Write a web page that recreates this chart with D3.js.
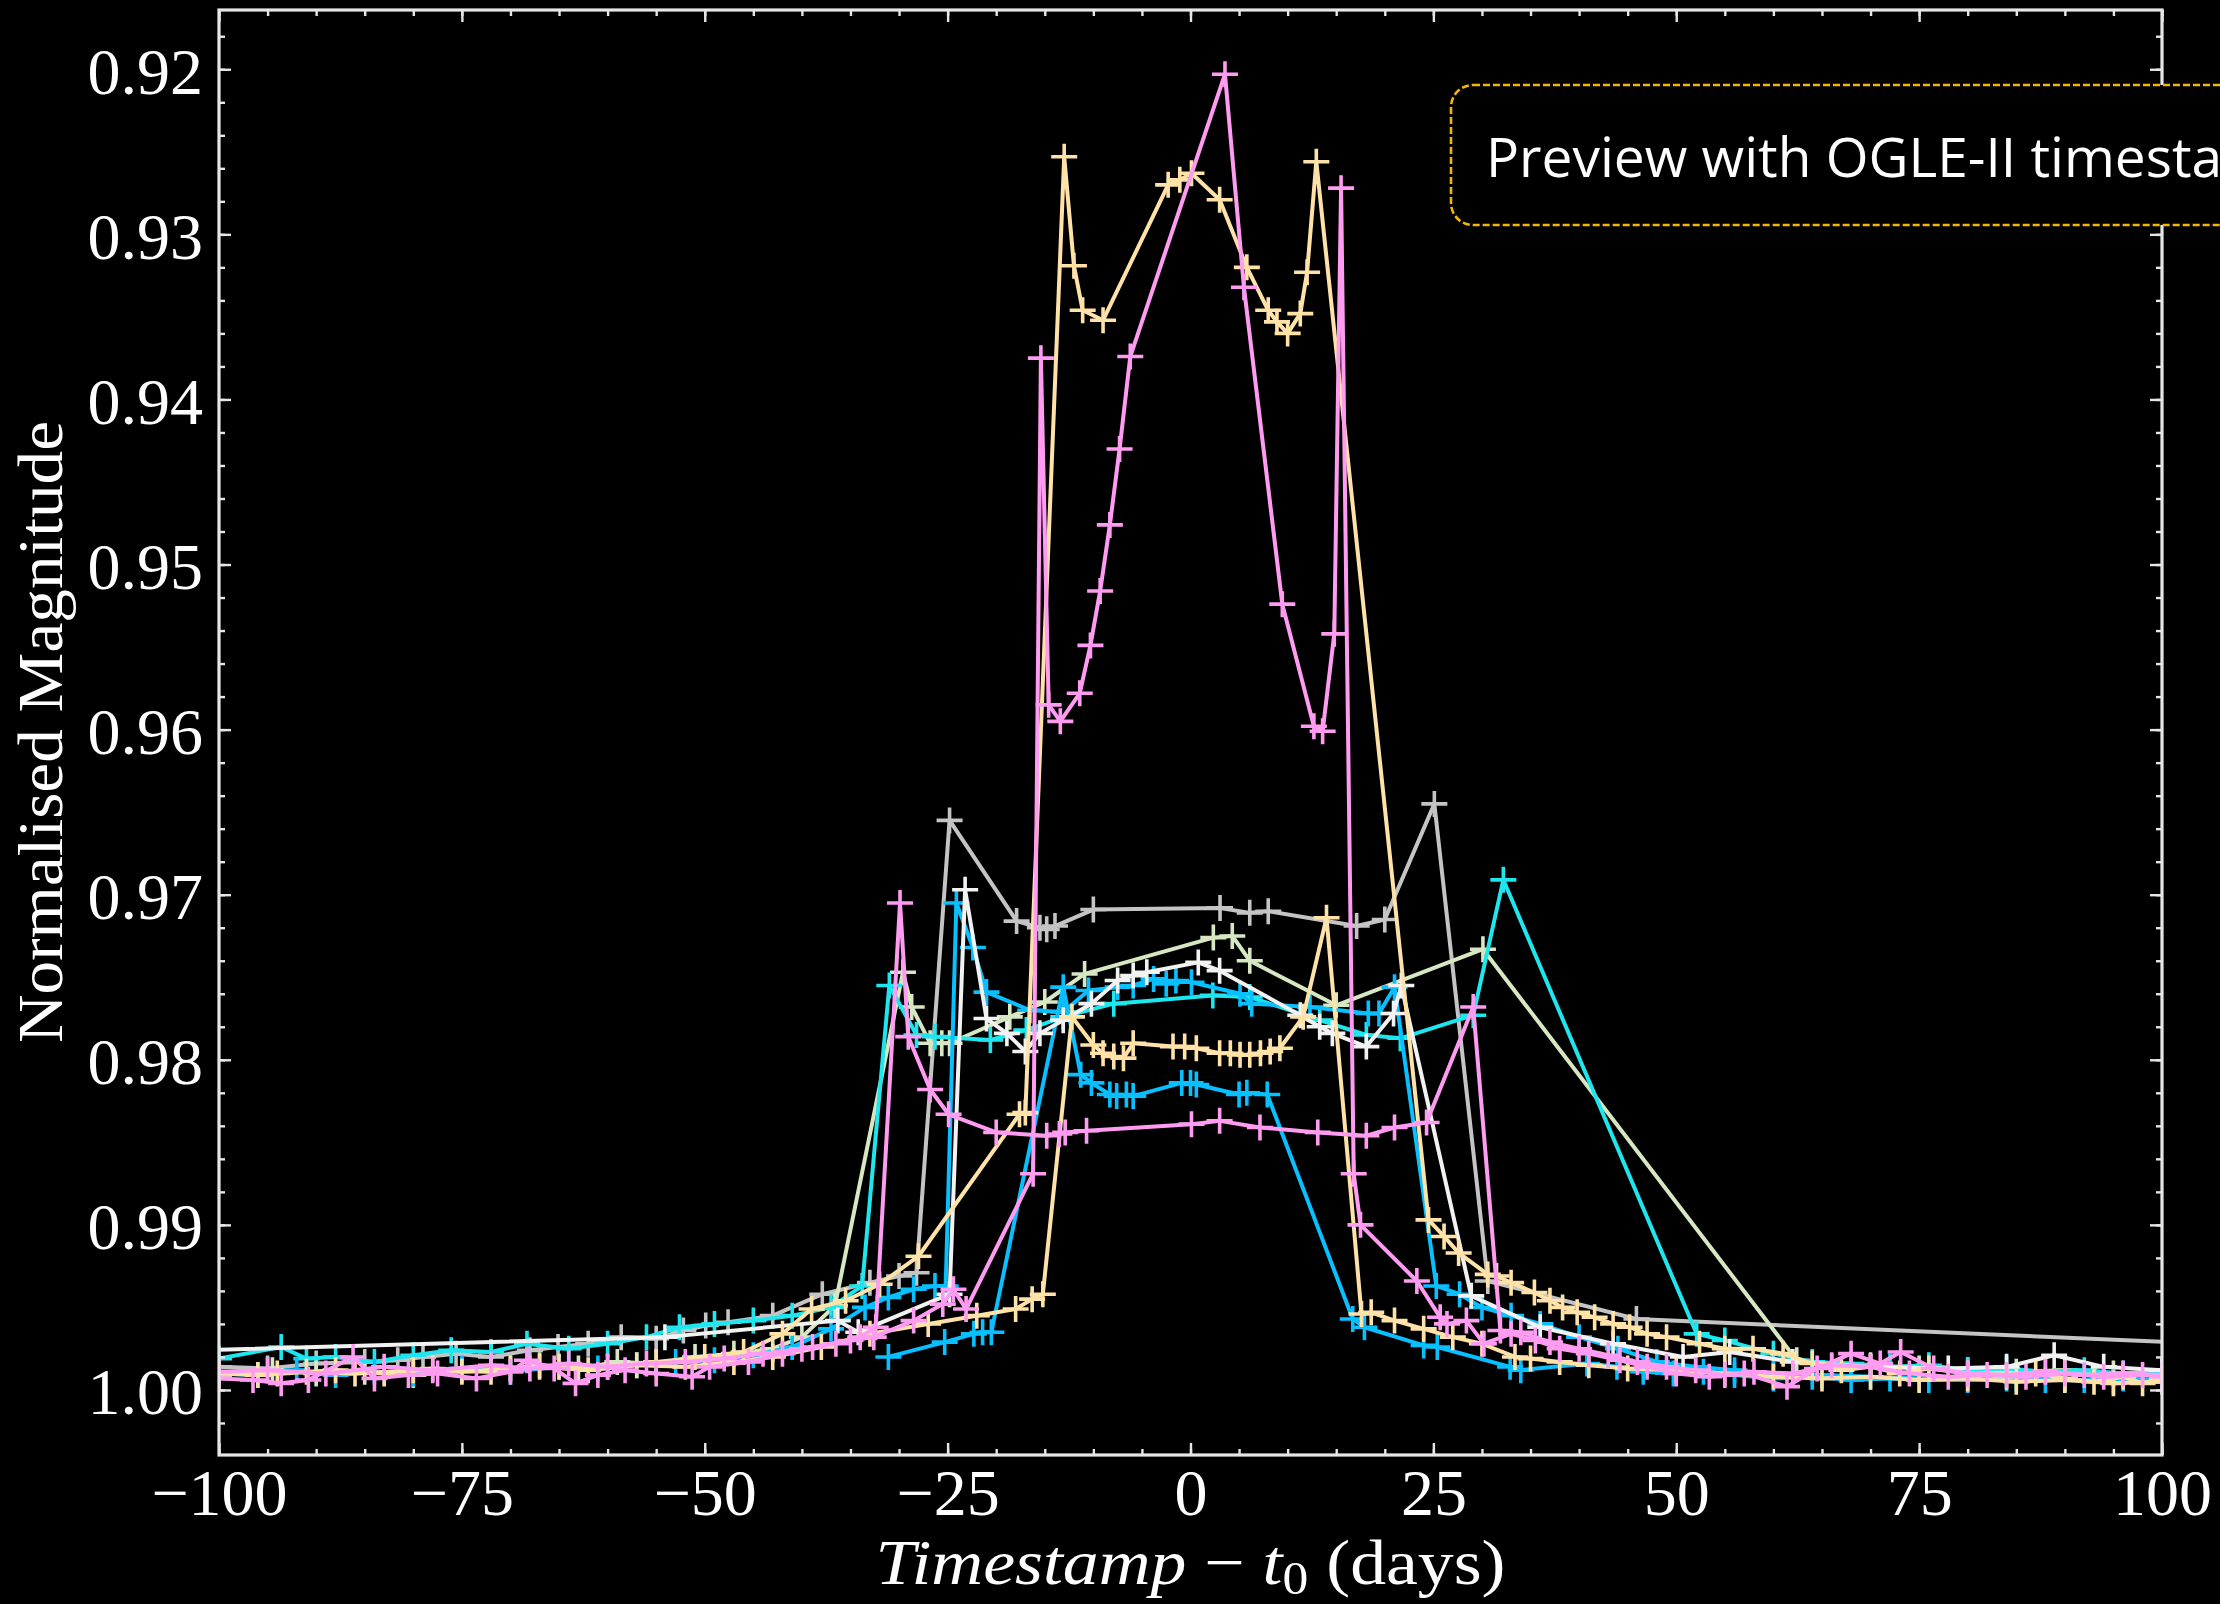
<!DOCTYPE html>
<html><head><meta charset="utf-8">
<script src="https://cdn.jsdelivr.net/npm/d3@7"></script>
<style>html,body{margin:0;padding:0;background:#000;overflow:hidden}</style>
</head><body>
<svg id="chart" width="2220" height="1604"></svg>
<script>
// ---------------- DATA ----------------
const xTickValues = [-100,-75,-50,-25,0,25,50,75,100];
const xTickLabels = ["\u2212100","\u221275","\u221250","\u221225","0","25","50","75","100"];
const yTickValues = [0.92,0.93,0.94,0.95,0.96,0.97,0.98,0.99,1.00];
const yTickLabels = ["0.92","0.93","0.94","0.95","0.96","0.97","0.98","0.99","1.00"];

const pinkA_t = [-100,-96.5,-93.6,-90.8,-86.2,-84,-80.5,-77.5,-73.5,-70,-68.3,-65.5,-63.3,-61,-58.2,-55,-51.3,-49.5,-45.5,-42,-38.9,-35,-32.6,-28.5,-25.5,-24.4,-23.1,-16.2,-15.4,-14.6,-13.4,-11.4,-10.3,-9.3,-8.3,-7.3,-6.2,3.55,5.5,9.45,12.7,13.6,14.8,15.5,16.8,17.5,23.3,25.7,26.4,28.4,30.2,33,35.5,38,41,44.2,47,50,53.4,57,61.4,64.5,68,71,73.1,76.5,80,84,88,92,96,100];
const pinkA_m = [0.9993,0.9994,0.9996,0.9994,0.9980,0.9993,0.9991,0.9990,0.9993,0.9989,0.9982,0.9987,0.9996,0.9991,0.9988,0.9990,0.9992,0.9986,0.9983,0.9978,0.9974,0.9970,0.9968,0.9958,0.9948,0.9939,0.9951,0.9869,0.9375,0.9585,0.9595,0.9578,0.9549,0.9516,0.9476,0.9430,0.9374,0.9203,0.9332,0.9524,0.9598,0.9601,0.9542,0.9272,0.9869,0.9900,0.9934,0.9956,0.9960,0.9958,0.9972,0.9966,0.9970,0.9975,0.9978,0.9982,0.9986,0.9990,0.9992,0.9990,0.9998,0.9987,0.9978,0.9984,0.9977,0.9987,0.9990,0.9991,0.9989,0.9991,0.9990,0.9991];

const pinkB_t = [-100,-95,-89,-83,-78,-72,-68,-64,-60,-56,-52,-48,-44,-40,-36.5,-34,-32.4,-29.9,-29.05,-26.8,-24.9,-20.0,-14.8,-13.5,-12.9,-10.7,0.1,3.0,7.15,13.1,18.1,21.0,24.3,29.1,31.9,34,37,40,43,46,49,52,55,58,62,66,70,74,78,82,86,90,94,98,100];
const pinkB_m = [0.9989,0.9988,0.9990,0.9986,0.9988,0.9985,0.9987,0.9984,0.9986,0.9984,0.9983,0.9981,0.9978,0.9975,0.9972,0.9968,0.9962,0.9705,0.9786,0.9818,0.9833,0.9844,0.9846,0.9845,0.9844,0.9843,0.9839,0.9837,0.9841,0.9844,0.9846,0.9841,0.9838,0.9768,0.9964,0.9965,0.9971,0.9975,0.9979,0.9983,0.9986,0.9988,0.9991,0.9989,0.9990,0.9985,0.9986,0.9990,0.9992,0.9991,0.9992,0.9990,0.9992,0.9991,0.9992];

const goldA_t = [-100,-96,-91,-86,-80,-75,-70,-65,-60,-55,-50,-46,-42,-39,-35.5,-32,-28.0,-17.6,-17.0,-13.0,-12.0,-11.1,-9.0,-2.3,-1.1,0.1,3.0,5.8,8.0,8.9,10.0,11.3,12.0,12.95,24.5,26.1,27.6,30.6,31.5,33,35.4,37,38.3,39.8,41.6,43.5,45.2,47,49,52.4,55,57.9,61,64,67,70,73,76,80,84,87,90,93,96,98,100];
const goldA_m = [0.9990,0.9991,0.9989,0.9990,0.9988,0.9989,0.9987,0.9986,0.9986,0.9983,0.9980,0.9977,0.9966,0.9951,0.9946,0.9936,0.9919,0.9833,0.9832,0.9253,0.9319,0.9346,0.9352,0.9270,0.9267,0.9263,0.9279,0.9320,0.9346,0.9353,0.9360,0.9348,0.9323,0.9256,0.9897,0.9907,0.9917,0.9930,0.9931,0.9935,0.9941,0.9946,0.9950,0.9953,0.9956,0.9960,0.9962,0.9966,0.9968,0.9972,0.9975,0.9975,0.9978,0.9984,0.9988,0.9986,0.9990,0.9987,0.9990,0.9992,0.9990,0.9993,0.9995,0.9992,0.9996,0.9993];

const goldB_t = [-100,-94,-88,-83,-78,-72,-67,-62,-57,-52,-47,-43,-38,-33,-27,-22,-18.0,-16.3,-15.2,-12.2,-10.0,-9.0,-7.9,-6.9,-5.9,-1.8,-0.6,0.6,3.0,4.1,5.1,6.1,7.2,8.2,9.2,11.6,14.0,17.6,18.6,21,24,27,30,33.4,35,38,41,45,50,55,60,65,70,75,80,85,90,95,100];
const goldB_m = [0.9989,0.9990,0.9988,0.9990,0.9987,0.9989,0.9986,0.9988,0.9985,0.9986,0.9983,0.9980,0.9974,0.9966,0.9960,0.9955,0.9951,0.9945,0.9942,0.9774,0.9791,0.9796,0.9798,0.9799,0.9790,0.9792,0.9792,0.9793,0.9796,0.9796,0.9797,0.9797,0.9796,0.9795,0.9793,0.9774,0.9714,0.9954,0.9953,0.9958,0.9963,0.9968,0.9972,0.9980,0.9981,0.9983,0.9985,0.9987,0.9988,0.9990,0.9992,0.9993,0.9992,0.9994,0.9993,0.9995,0.9994,0.9996,0.9995];

const gray_t = [-100,-95,-90,-85,-81.6,-79,-75.6,-72,-68,-65.1,-62,-58.6,-55,-52.2,-49.9,-47.6,-43,-37.9,-33,-30,-28.2,-24.8,-17.9,-15.5,-14.8,-13.95,-10.0,3.04,6.1,8.0,17.1,20.0,25.1,30.6,45.9,120];
const gray_m = [0.9986,0.9987,0.9984,0.9983,0.9982,0.9980,0.9978,0.9980,0.9976,0.9974,0.9972,0.9968,0.9969,0.9964,0.9961,0.9959,0.9955,0.9942,0.9935,0.9931,0.9929,0.9655,0.9716,0.9720,0.9721,0.9719,0.9709,0.9708,0.9711,0.9710,0.9719,0.9715,0.9645,0.9934,0.9957,0.9976];

const white_t = [-110,-54.1,-36.3,-34.2,-24.8,-23.2,-21.0,-18.9,-17.0,-15.5,-13.1,-10.2,-7.5,-5.9,-4.5,0.8,3.0,11.3,13.3,14.6,18.1,20.9,21.7,28.9,36.0,43.5,50.7,55.5,62,70,78,84,88.9,94,100];
const white_m = [0.99774,0.9968,0.9958,0.9965,0.9942,0.9697,0.9775,0.9784,0.9795,0.9784,0.9776,0.9766,0.9752,0.9749,0.9747,0.9741,0.9746,0.9773,0.9780,0.9784,0.9792,0.9772,0.9755,0.9943,0.9962,0.9972,0.9980,0.9977,0.9983,0.9986,0.9987,0.9986,0.9979,0.9986,0.9988];

const green_t = [-100,-94.5,-90,-85,-80,-75,-70,-67,-63,-59,-55,-51,-47,-43,-40,-36.6,-29.6,-28.7,-26.8,-25.6,-24.8,-18.6,-15.0,-10.9,2.35,4.3,6.1,15.0,30.1,62.4,66,70,75,80,85,90,95,100];
const green_m = [0.9991,0.9988,0.9990,0.9989,0.9991,0.9988,0.9987,0.9985,0.9987,0.9983,0.9984,0.9980,0.9978,0.9975,0.9968,0.9949,0.9747,0.9768,0.9790,0.9790,0.9790,0.9774,0.9765,0.9748,0.9726,0.9725,0.9740,0.9767,0.9733,0.9982,0.9986,0.9985,0.9987,0.9988,0.9989,0.9988,0.9990,0.9989];

const cyan_t = [-100,-93.6,-91,-88,-84,-80,-76.1,-72,-68.3,-64,-60,-56,-52.6,-49,-45,-41,-37,-33.8,-31.0,-28.2,-26.3,-20.6,-16.9,-13.1,-7.9,2.3,6.1,13.3,18.1,21.6,29.1,32.2,52.1,55,60,64,68,72,76,80,84,88,92,96,100];
const cyan_m = [0.9981,0.9974,0.9981,0.9980,0.9983,0.9979,0.9976,0.9977,0.9972,0.9975,0.9972,0.9968,0.9962,0.9960,0.9958,0.9955,0.9950,0.9937,0.9755,0.9785,0.9786,0.9788,0.9782,0.9774,0.9766,0.9761,0.9762,0.9776,0.9785,0.9787,0.9773,0.9691,0.9966,0.9970,0.9978,0.9983,0.9984,0.9986,0.9985,0.9988,0.9987,0.9989,0.9988,0.9990,0.9990];

const blueA_t = [-100,-96,-92,-88,-84,-80,-75,-70,-65,-61,-57,-53,-49,-45,-41,-37,-33.5,-31.1,-28.5,-26.3,-25.2,-24.1,-22.4,-21.0,-16.5,-13.1,-10.5,-7.5,-5.9,-3.8,-2.5,-1.5,0.1,5.1,6.3,12.3,18.3,19.4,21.0,25.3,27.7,30,33,36,40,44,48,52,56,60,65,70,75,80,85,90,95,100];
const blueA_m = [0.9990,0.9991,0.9988,0.9991,0.9989,0.9990,0.9987,0.9989,0.9986,0.9987,0.9985,0.9983,0.9982,0.9979,0.9974,0.9963,0.9950,0.9944,0.9939,0.9937,0.9937,0.9705,0.9732,0.9759,0.9770,0.9771,0.9758,0.9756,0.9755,0.9751,0.9754,0.9752,0.9753,0.9760,0.9766,0.9768,0.9772,0.9772,0.9756,0.9937,0.9942,0.9950,0.9955,0.9960,0.9968,0.9975,0.9983,0.9986,0.9988,0.9990,0.9991,0.9992,0.9993,0.9994,0.9993,0.9994,0.9995,0.9994];

const blueB_t = [-31.1,-25.3,-22.3,-21.4,-20.5,-13.1,-11.3,-10.2,-8.3,-7.6,-6.6,-5.9,-0.9,0.0,0.6,5.0,5.8,7.9,16.7,17.9,24.0,25.4,32.9,34.0,40.8,43.9,46.6,49.7,52.8,56,60,64,68,72,76,80,84,88,92,96,100];
const blueB_m = [0.9980,0.9971,0.9966,0.9965,0.9965,0.9756,0.9809,0.9814,0.9821,0.9822,0.9821,0.9822,0.9814,0.9814,0.9815,0.9821,0.9820,0.9821,0.9957,0.9962,0.9973,0.9974,0.9986,0.9988,0.9984,0.9986,0.9989,0.9990,0.9989,0.9991,0.9993,0.9992,0.9994,0.9993,0.9994,0.9994,0.9993,0.9994,0.9994,0.9993,0.9994];

const seriesNames  = ["gray","green","cyan","blueA","blueB","white","goldB","goldA","pinkB","pinkA"];
const seriesColors = ["#c4c4c4","#d6e7c2","#1ee6ee","#08bfff","#08bfff","#f2f2f2","#ffe2a8","#ffe2a8","#ff9cf2","#ff9cf2"];
const seriesTimes  = [gray_t,green_t,cyan_t,blueA_t,blueB_t,white_t,goldB_t,goldA_t,pinkB_t,pinkA_t];
const seriesMags   = [gray_m,green_m,cyan_m,blueA_m,blueB_m,white_m,goldB_m,goldA_m,pinkB_m,pinkA_m];

const xLabelParts = ["Timestamp", " \u2212 ", "t", "0", " (days)"];
const yLabelText = "Normalised Magnitude";
const noteText = "Preview with OGLE-II timestamps";

// ---------------- CHART ----------------
const svg = d3.select("#chart");
svg.append("rect").attr("width",2220).attr("height",1604).attr("fill","#000");

const L=219, R=2162, T=10, B=1455;
const x = d3.scaleLinear().domain([-100,100]).range([L,R]);
const y = d3.scaleLinear().domain([0.91641,1.00394]).range([T,B]);

svg.append("defs").append("clipPath").attr("id","plotclip")
  .append("rect").attr("x",L).attr("y",T).attr("width",R-L).attr("height",B-T);

const plot = svg.append("g").attr("clip-path","url(#plotclip)");
const line = d3.line().x(d=>x(d[0])).y(d=>y(d[1]));
const cross = "M-13,0H13M0,-13V13";

seriesNames.forEach((name,i)=>{
  const n = Math.min(seriesTimes[i].length, seriesMags[i].length);
  const data = d3.range(n).map(k=>[seriesTimes[i][k], seriesMags[i][k]]);
  const g = plot.append("g").attr("class","series-"+name);
  g.append("path").datum(data).attr("d",line).attr("fill","none")
    .attr("stroke",seriesColors[i]).attr("stroke-width",4).attr("stroke-linejoin","round");
  g.selectAll("path.m").data(data).enter().append("path").attr("class","m")
    .attr("d",cross).attr("transform",d=>`translate(${x(d[0])},${y(d[1])})`)
    .attr("stroke",seriesColors[i]).attr("stroke-width",3.6).attr("fill","none");
});

// axes (ticks inward on all sides)
const axColor = "#e6e6e6";
const xMinor = d3.range(-100,100.1,5);
const yMinor = d3.range(0.918,1.0031,0.002);
function styleAxis(g){ g.select(".domain").remove(); g.selectAll("line").attr("stroke",axColor).attr("stroke-width",2.4); }

svg.append("g").attr("transform",`translate(0,${B})`).call(d3.axisBottom(x).tickValues(xMinor).tickSize(-6).tickFormat("")).call(styleAxis);
svg.append("g").attr("transform",`translate(0,${T})`).call(d3.axisTop(x).tickValues(xMinor).tickSize(-6).tickFormat("")).call(styleAxis);
svg.append("g").attr("transform",`translate(0,${T})`).call(d3.axisTop(x).tickValues(xTickValues).tickSize(-12).tickFormat("")).call(styleAxis);
const xb = svg.append("g").attr("transform",`translate(0,${B})`)
  .call(d3.axisBottom(x).tickValues(xTickValues).tickSize(-12).tickPadding(16).tickFormat((d,i)=>xTickLabels[i])).call(styleAxis);
xb.selectAll("text").attr("fill","#fff").attr("font-family","'Liberation Serif', serif").attr("font-size",66)
  .attr("dy",null).attr("y",60);

svg.append("g").attr("transform",`translate(${L},0)`).call(d3.axisLeft(y).tickValues(yMinor).tickSize(-6).tickFormat("")).call(styleAxis);
svg.append("g").attr("transform",`translate(${R},0)`).call(d3.axisRight(y).tickValues(yMinor).tickSize(-6).tickFormat("")).call(styleAxis);
svg.append("g").attr("transform",`translate(${R},0)`).call(d3.axisRight(y).tickValues(yTickValues).tickSize(-12).tickFormat("")).call(styleAxis);
const yl = svg.append("g").attr("transform",`translate(${L},0)`)
  .call(d3.axisLeft(y).tickValues(yTickValues).tickSize(-12).tickPadding(16).tickFormat((d,i)=>yTickLabels[i])).call(styleAxis);
yl.selectAll("text").attr("fill","#fff").attr("font-family","'Liberation Serif', serif").attr("font-size",66)
  .attr("dy",null).attr("y",24);

// frame
svg.append("rect").attr("x",L).attr("y",T).attr("width",R-L).attr("height",B-T)
  .attr("fill","none").attr("stroke",axColor).attr("stroke-width",3.2);

// axis labels
const xl = svg.append("text").attr("x",(L+R)/2).attr("y",1584).attr("text-anchor","middle")
  .attr("fill","#fff").attr("font-family","'Liberation Serif', serif").attr("font-size",64)
  .attr("textLength",630).attr("lengthAdjust","spacingAndGlyphs");
xl.append("tspan").attr("font-style","italic").text(xLabelParts[0]);
xl.append("tspan").text(xLabelParts[1]);
xl.append("tspan").attr("font-style","italic").text(xLabelParts[2]);
xl.append("tspan").attr("font-size",46).attr("dy",10).text(xLabelParts[3]);
xl.append("tspan").attr("dy",-10).text(xLabelParts[4]);

svg.append("text").attr("transform","translate(62,732) rotate(-90)").attr("text-anchor","middle")
  .attr("fill","#fff").attr("font-family","'Liberation Serif', serif").attr("font-size",64)
  .attr("textLength",622).attr("lengthAdjust","spacingAndGlyphs").text(yLabelText);

// annotation box
svg.append("rect").attr("x",1451).attr("y",85).attr("width",900).attr("height",140).attr("rx",22).attr("ry",22)
  .attr("fill","#000").attr("stroke","#f2b705").attr("stroke-width",2.6).attr("stroke-dasharray","7,3");
svg.append("text").attr("x",1486).attr("y",177).attr("fill","#fff")
  .attr("font-family","'Open Sans', sans-serif").attr("font-size",55).text(noteText);
</script>
</body></html>
